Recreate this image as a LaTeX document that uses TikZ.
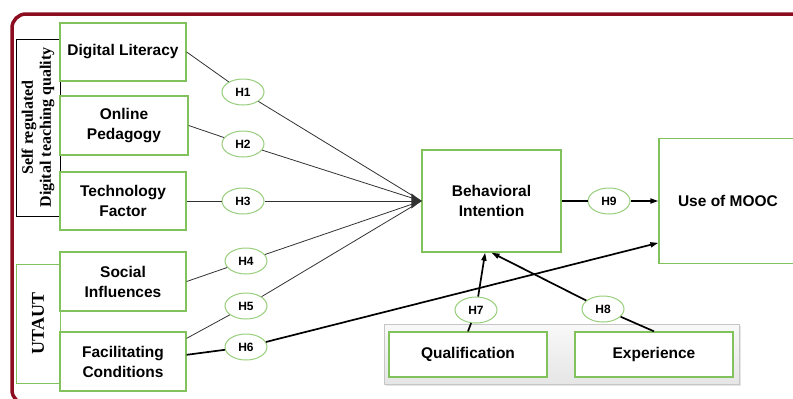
\documentclass[tikz,border=0pt]{standalone}
\usepackage{fontspec}
\setmainfont{Liberation Sans}
\newfontfamily\serifbold{Liberation Serif}
\usetikzlibrary{arrows.meta,shapes.geometric,shadows}

\definecolor{framered}{RGB}{140,12,32}
\definecolor{boxgreen}{RGB}{130,194,92}
\definecolor{ellgreen}{RGB}{152,206,124}
\definecolor{linegray}{RGB}{50,50,50}

\tikzset{
  factor/.style={draw=boxgreen, line width=1.3pt, fill=white, align=center,
    minimum width=126pt, minimum height=58pt, inner sep=2pt,
    font=\fontsize{15.5}{20}\selectfont\bfseries},
  hyp/.style={ellipse, draw=ellgreen, line width=1pt, fill=white,
    minimum width=42pt, minimum height=26pt, inner sep=0pt,
    font=\fontsize{12}{12}\selectfont\bfseries},
  thin link/.style={draw=linegray, line width=0.8pt},
  thick link/.style={draw=black, line width=1.7pt},
  smallarrow/.style={-{Triangle[length=8pt,width=5pt]}},
  sidelabel/.style={rotate=90, align=center, inner sep=0pt,
    font=\fontsize{16}{18}\selectfont\serifbold\bfseries}
}

\begin{document}
\begin{tikzpicture}[x=1pt, y=-1pt]
  \useasboundingbox (0,0) rectangle (793,399);
  \clip (0,0) rectangle (793,399);

  \draw[framered, line width=3.5pt, rounded corners=14pt] (12,14) rectangle (815,404);

  % construct groups
  \node[draw=black, line width=0.8pt, sidelabel, minimum width=177pt, minimum height=44pt] (selfreg) at (38,127.5) {Self regulated\\Digital teaching quality};
  \node[draw=boxgreen, line width=1pt, sidelabel, minimum width=119pt, minimum height=44pt,
    font=\fontsize{18}{20}\selectfont\serifbold\bfseries] (utaut) at (38,323.5) {UTAUT};

  \node[factor] (diglit) at (123,52) {Digital Literacy};
  \node[factor, minimum width=128pt, minimum height=59pt] (onlped) at (124,125.5) {Online\\Pedagogy};
  \node[factor] (techfac) at (123,201) {Technology\\Factor};
  \node[factor, minimum height=59pt] (socinf) at (123,281.5) {Social\\Influences};
  \node[factor, minimum height=59pt] (faccond) at (123,361.5) {Facilitating\\Conditions};

  \node[factor, minimum width=139pt, minimum height=102pt] (behint) at (491.5,201) {Behavioral\\Intention};
  \node[factor, minimum width=138pt, minimum height=125pt] (mooc) at (728,201) {Use of MOOC};

  % moderators
  \node[draw=gray!45, line width=1pt, top color=gray!5, bottom color=gray!20,
    drop shadow={opacity=0.2, shadow xshift=1.5pt, shadow yshift=-1.5pt},
    minimum width=355pt, minimum height=60pt] (moder) at (561.5,354) {};
  \node[factor, minimum width=158pt, minimum height=45pt] (qualif) at (468,354.5) {Qualification};
  \node[factor, minimum width=158pt, minimum height=45pt] (exper) at (654,354.5) {Experience};

  \node[hyp] (h1) at (243,92) {H1};
  \node[hyp] (h2) at (243,144) {H2};
  \node[hyp] (h3) at (243,201) {H3};
  \node[hyp] (h4) at (246,261) {H4};
  \node[hyp] (h5) at (246,306) {H5};
  \node[hyp] (h6) at (246,347) {H6};
  \node[hyp] (h7) at (476,310) {H7};
  \node[hyp] (h8) at (603,309) {H8};
  \node[hyp] (h9) at (609,201) {H9};

  % paths into behavioral intention
  \draw[thin link] (diglit.east) -- (h1);
  \draw[thin link] (onlped.east) -- (h2);
  \draw[thin link] (techfac.east) -- (h3);
  \draw[thin link] (socinf.east) -- (h4);
  \draw[thin link] (faccond.20) -- (h5);
  \draw[thin link] (h1) -- (behint.west);
  \draw[thin link] (h2) -- (behint.west);
  \draw[thin link] (h4) -- (behint.west);
  \draw[thin link] (h5) -- (behint.west);
  \draw[thin link, -{Triangle[length=10pt,width=15pt]}] (h3) -- (behint.west);

  \draw[thick link] (faccond.6) -- (h6);
  \draw[thick link, smallarrow] (h6) -- (mooc.211);
  \draw[thick link] (behint.east) -- (h9);
  \draw[thick link, smallarrow] (h9) -- (mooc.west);
  \draw[thick link] (qualif.north) -- (h7);
  \draw[thick link, smallarrow] (h7) -- (behint.263);
  \draw[thick link] (exper.north) -- (h8);
  \draw[thick link, smallarrow] (h8) -- (behint.south);
\end{tikzpicture}
\end{document}
